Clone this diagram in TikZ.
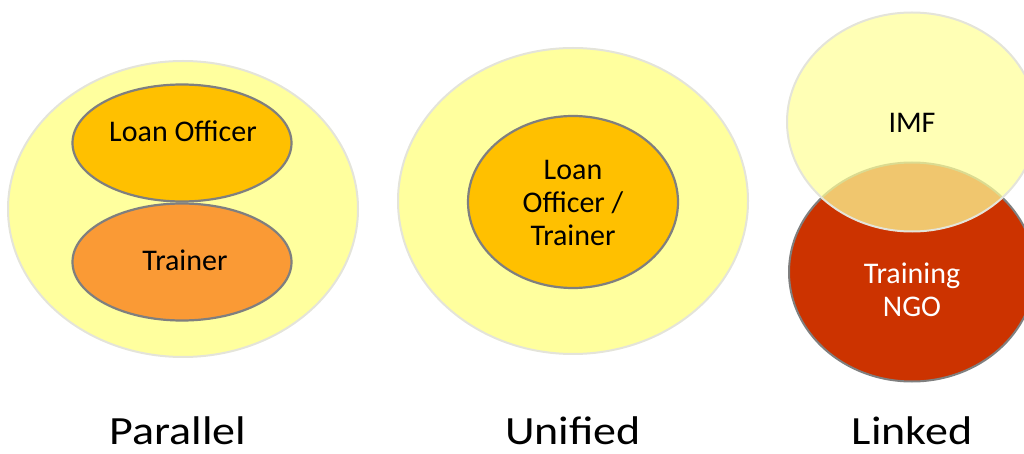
\documentclass[tikz,border=0pt]{standalone}
\usepackage{fontspec}
\setmainfont{Carlito}
\usetikzlibrary{shapes.geometric}
\definecolor{paleyellow}{HTML}{FFFF9E}
\definecolor{paleborder}{HTML}{E4E4DA}
\definecolor{loanfill}{HTML}{FFC000}
\definecolor{trainfill}{HTML}{FA9A35}
\definecolor{ngofill}{HTML}{CC3300}
\definecolor{imffill}{HTML}{FFFF99}
\definecolor{midgray}{HTML}{7F7F7F}
\tikzset{
  outerell/.style={ellipse, inner sep=0pt, fill=paleyellow, draw=paleborder, line width=2pt},
  innerell/.style={ellipse, inner sep=0pt, draw=midgray, line width=2.2pt},
  intext/.style={font=\fontsize{30}{33}\selectfont, align=center, inner sep=0pt},
  caption/.style={font=\fontsize{46}{50}\selectfont, inner sep=0pt, anchor=base}
}
\begin{document}
\begin{tikzpicture}[x=1pt,y=-1pt]
\useasboundingbox (0,0) rectangle (1024,454);
\begin{scope}
\clip (0,0) rectangle (1024,454);
% Parallel
\node[outerell, minimum width=350pt, minimum height=296pt] (par) at (183,209) {};
\node[innerell, fill=loanfill, minimum width=219pt, minimum height=117pt] (loan) at (182,143) {};
\node[innerell, fill=trainfill, minimum width=219pt, minimum height=117pt] (train) at (182,262) {};
\node[intext] (loant) at (183,131) {Loan Officer};
\node[intext] (traint) at (185,260) {Trainer};
% Unified
\node[outerell, minimum width=350pt, minimum height=306pt] (uni) at (573,201) {};
\node[innerell, fill=loanfill, minimum width=210pt, minimum height=172pt] (lot) at (573,202) {};
\node[intext] (lott) at (573,203) {Loan\\Officer /\\Trainer};
% Linked
\node[ellipse, inner sep=0pt, fill=ngofill, draw=midgray, line width=2pt, minimum width=246pt, minimum height=219pt] (ngo) at (912,272) {};
\node[ellipse, inner sep=0pt, fill=imffill, fill opacity=0.72, draw=paleborder, line width=2pt, minimum width=250pt, minimum height=219pt] (imf) at (912,122) {};
\node[intext] (imft) at (912,123) {IMF};
\node[intext, text=white] (ngot) at (912,290) {Training\\NGO};
\end{scope}
% captions
\node[caption] (c1) at (178,444) {\scalebox{1}[0.87]{Parallel}};
\node[caption] (c2) at (573,444) {\scalebox{1}[0.87]{Unified}};
\node[caption] (c3) at (912,444) {\scalebox{1}[0.87]{Linked}};
\end{tikzpicture}
\end{document}
